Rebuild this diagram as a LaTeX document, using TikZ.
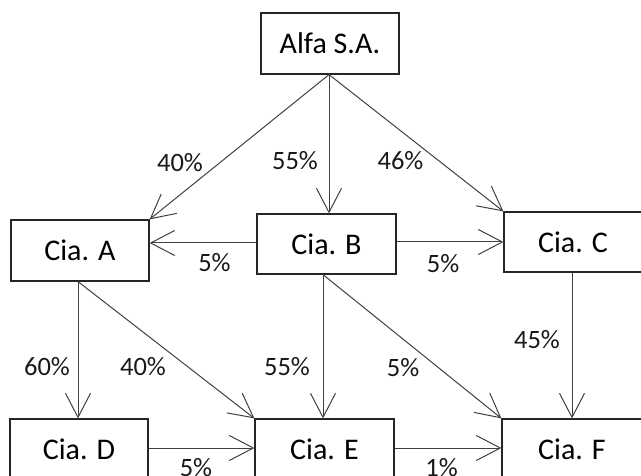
\documentclass[tikz,border=0pt]{standalone}
\usepackage{fontspec}
\setmainfont{Carlito}
\usetikzlibrary{arrows.meta}
\begin{document}
\begin{tikzpicture}[x=1pt,y=-1pt,
  box/.style={draw=black!85,line width=1.2pt,rectangle,minimum width=138pt,minimum height=61pt,inner sep=0pt,font=\fontsize{30}{35}\selectfont},
  arr/.style={draw=black!75,line width=1pt,-{Straight Barb[length=24pt,width=25pt,line width=1pt]}},
  lbl/.style={inner sep=0pt,font=\fontsize{26.5}{31}\selectfont,text=black!90}]
\useasboundingbox (0,0) rectangle (641,476);
\node[box] (alfa) at (330,43.5) {Alfa S.A.};
\node[box] (a) at (80,250.5) {Cia. A};
\node[box,minimum width=139pt,minimum height=60pt] (b) at (326.5,244) {Cia. B};
\node[box,minimum height=60pt] (c) at (573,242) {Cia. C};
\node[box] (d) at (79,449.5) {Cia. D};
\node[box,minimum width=139pt] (e) at (324.5,449.5) {Cia. E};
\node[box,minimum width=140pt] (f) at (572,449.5) {Cia. F};
\draw[arr] ([xshift=-1pt]alfa.south) -- (a.north east);
\draw[arr] ([xshift=-1pt]alfa.south) -- ([xshift=-1pt]alfa.south |- b.north);
\draw[arr] ([xshift=-1pt]alfa.south) -- (c.north west);
\draw[arr] ([yshift=1pt]b.west) -- ([yshift=1pt]b.west -| a.east);
\draw[arr] (c.west -| b.east) -- (c.west);
\draw[arr] ([xshift=-1pt]c.south) -- ([xshift=-1pt]c.south |- f.north);
\draw[arr] ([xshift=-2pt]a.south) -- ([xshift=-2pt]a.south |- d.north);
\draw[arr] ([xshift=-2pt]a.south) -- (e.north west);
\draw[arr] ([xshift=-3.5pt]b.south) -- ([xshift=-3.5pt]b.south |- e.north);
\draw[arr] ([xshift=-3.5pt]b.south) -- (f.north west);
\draw[arr] ([yshift=1.5pt]d.east) -- ([yshift=1.5pt]e.west);
\draw[arr] ([yshift=1.5pt]e.east) -- ([yshift=1.5pt]f.west);
\node[lbl] (l1) at (180,163) {40\%};
\node[lbl] (l2) at (295,161) {55\%};
\node[lbl] (l3) at (400.5,161) {46\%};
\node[lbl] (l4) at (214.5,262.5) {5\%};
\node[lbl] (l5) at (443,264) {5\%};
\node[lbl] (l6) at (537,340) {45\%};
\node[lbl] (l7) at (47,367) {60\%};
\node[lbl] (l8) at (143,367) {40\%};
\node[lbl] (l9) at (287,367) {55\%};
\node[lbl] (l10) at (403,368) {5\%};
\node[lbl] (l11) at (196,468) {5\%};
\node[lbl] (l12) at (441.5,468) {1\%};
\end{tikzpicture}
\end{document}
